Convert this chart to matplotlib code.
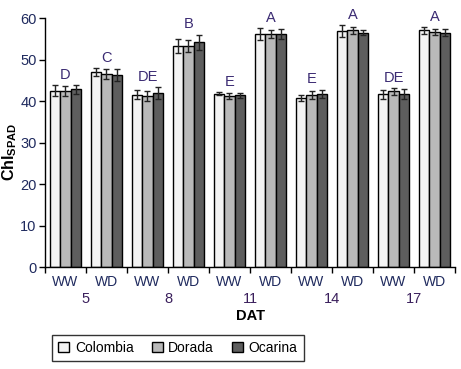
import matplotlib
matplotlib.use('Agg')
import matplotlib.pyplot as plt
import numpy as np

plt.rcParams['font.family'] = ['Liberation Sans', 'DejaVu Sans']
plt.rcParams['mathtext.fontset'] = 'custom'
plt.rcParams['mathtext.bf'] = 'Liberation Sans:bold'
plt.rcParams['mathtext.rm'] = 'Liberation Sans'

days = ['5', '8', '11', '14', '17']
treat = ['WW', 'WD'] * 5
cultivars = ['Colombia', 'Dorada', 'Ocarina']

colombia = [42.5, 47.0, 41.5, 53.2, 41.8, 56.1, 40.7, 56.9, 41.6, 57.0]
dorada = [42.4, 46.5, 41.2, 53.2, 41.2, 56.1, 41.4, 57.0, 42.3, 56.7]
ocarina = [42.8, 46.2, 41.9, 54.2, 41.4, 56.1, 41.7, 56.5, 41.6, 56.5]
err_col = [1.4, 0.9, 1.1, 1.7, 0.4, 1.4, 0.7, 1.4, 1.0, 0.8]
err_dor = [1.2, 1.2, 1.3, 1.5, 0.7, 1.0, 1.0, 0.9, 0.8, 0.7]
err_oca = [1.0, 1.4, 1.4, 1.8, 0.6, 1.2, 1.0, 0.6, 1.2, 0.8]
letters = ['D', 'C', 'DE', 'B', 'E', 'A', 'E', 'A', 'DE', 'A']

fig = plt.figure(figsize=(4.61, 3.69), dpi=100)
ax = fig.add_axes([0.0976, 0.2764, 0.8894, 0.6748])

x = np.arange(len(treat)) + 0.5
w = 0.26
series = [colombia, dorada, ocarina]
errs = [err_col, err_dor, err_oca]
colors = ['#f3f3f3', '#b9b9b9', '#5e5e5e']
for i in range(3):
    ax.bar(x + (i - 1) * w, series[i], w * 0.95, yerr=errs[i], color=colors[i],
           edgecolor='black', linewidth=1.0, label=cultivars[i],
           error_kw=dict(ecolor='#222222', elinewidth=1.0, capsize=2.5, capthick=1.0))

tops = np.max(np.array(series) + np.array(errs), axis=0)
for xi, t, l in zip(x, tops, letters):
    ax.text(xi, t + 0.8, l, ha='center', va='bottom', fontsize=10.5, color='#3a2a72')

ax.set_xlim(0, 10)
ax.set_ylim(0, 60)
ax.set_yticks(range(0, 61, 10))
ax.set_xticks(np.arange(0, 11))
ax.set_xticklabels([])
ax.tick_params(axis='both', direction='out', length=4, width=1, labelsize=10.5,
               labelcolor='#1f2a5e', pad=2)
for xi, t in zip(x, treat):
    ax.text(xi, -2.0, t, ha='center', va='top', fontsize=10, color='#1f2a5e')
for k, d in enumerate(days):
    ax.text(2 * k + 1, -6.0, d, ha='center', va='top', fontsize=10.5, color='#3a1f5c')
ax.text(5, -10.0, 'DAT', ha='center', va='top', fontsize=10.5, fontweight='bold')

for s in ['top', 'right']:
    ax.spines[s].set_visible(False)
ax.spines['left'].set_linewidth(1)
ax.spines['bottom'].set_linewidth(1)

fig.text(0.022, 0.59, r'$\mathbf{Chl}_{\mathbf{SPAD}}$', rotation=90,
         ha='center', va='center', fontsize=11.5)

leg = fig.legend(loc='center', bbox_to_anchor=(0.386, 0.0575), ncol=3, frameon=True,
                 fancybox=False, edgecolor='black', fontsize=10, handlelength=0.8,
                 handleheight=0.8, columnspacing=1.3, handletextpad=0.4,
                 borderpad=0.45)
leg.get_frame().set_linewidth(1)

fig.savefig('out.png', dpi=100)
